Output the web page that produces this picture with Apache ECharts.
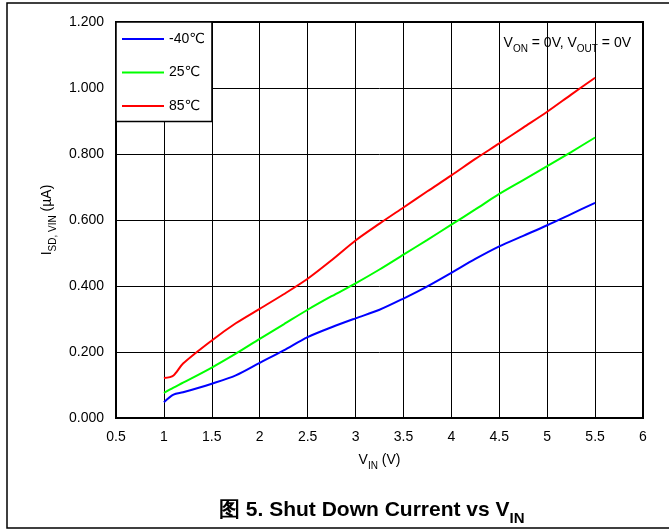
<!DOCTYPE html>
<html><head><meta charset="utf-8">
<script src="https://cdn.jsdelivr.net/npm/echarts@6/dist/echarts.min.js"></script>
<style>html,body{margin:0;padding:0;background:#fff}#c{width:669px;height:529px}</style>
</head><body><div id="c"></div>
<script>
const vin = [1.0, 1.1, 1.2, 1.5, 1.75, 2.0, 2.25, 2.5, 2.75, 3.0, 3.25, 3.5, 3.75, 4.0, 4.25, 4.5, 4.75, 5.0, 5.25, 5.5];
const m40 = [0.048, 0.071, 0.078, 0.104, 0.129, 0.167, 0.205, 0.245, 0.275, 0.302, 0.328, 0.362, 0.399, 0.440, 0.482, 0.520, 0.552, 0.584, 0.618, 0.652];
const t25 = [0.076, 0.092, 0.107, 0.153, 0.195, 0.240, 0.284, 0.328, 0.369, 0.408, 0.450, 0.495, 0.540, 0.586, 0.632, 0.679, 0.721, 0.763, 0.806, 0.850];
const t85 = [0.121, 0.129, 0.165, 0.235, 0.287, 0.331, 0.375, 0.422, 0.478, 0.538, 0.589, 0.638, 0.687, 0.735, 0.785, 0.832, 0.880, 0.928, 0.980, 1.031];
const seriesNames = ['-40℃', '25℃', '85℃'];
const seriesColors = ['#0000ff', '#00ff00', '#ff0000'];
const yTicks = [0, 0.2, 0.4, 0.6, 0.8, 1.0, 1.2];
const xTicks = [0.5, 1, 1.5, 2, 2.5, 3, 3.5, 4, 4.5, 5, 5.5, 6];

const FONT = '"Liberation Sans", Arial, "DejaVu Sans", sans-serif';
const pair = a => vin.map((x, i) => [x, a[i]]);
const allData = [m40, t25, t85];

const chart = echarts.init(document.getElementById('c'), null, {renderer: 'canvas'});
chart.setOption({
  animation: false,
  backgroundColor: '#fff',
  textStyle: {fontFamily: FONT},
  grid: {left: 116, right: 26, top: 22, bottom: 111, show: true, borderColor: '#000', borderWidth: 2, z: 5},
  title: {
    text: '{a|图 5. Shut Down Current vs V}{s|IN}',
    left: 214, top: 495,
    textStyle: {rich: {
      a: {fontFamily: FONT, fontWeight: 'bold', fontSize: 21, color: '#000'},
      s: {fontFamily: FONT, fontWeight: 'bold', fontSize: 15, color: '#000', verticalAlign: 'bottom', padding: [0, 0, -5, 0]}
    }}
  },
  legend: {
    orient: 'vertical', left: 116, top: 22,
    data: seriesNames,
    icon: 'rect',
    itemWidth: 42, itemHeight: 2, itemGap: 17.5,
    padding: [9, 7, 7.5, 6],
    backgroundColor: '#fff', borderColor: '#000', borderWidth: 1.5,
    textStyle: {fontFamily: FONT, fontSize: 14, lineHeight: 16, color: '#000'},
    z: 10
  },
  xAxis: {
    type: 'value', min: 0.5, max: 6, interval: 0.5,
    name: '{a|V}{s|IN}{a| (V)}', nameLocation: 'middle', nameGap: 35,
    nameTextStyle: {rich: {
      a: {fontFamily: FONT, fontSize: 14, color: '#000'},
      s: {fontFamily: FONT, fontSize: 10, color: '#000', verticalAlign: 'bottom', padding: [0, 0, -4, 0]}
    }},
    axisLine: {show: false}, axisTick: {show: false},
    axisLabel: {fontFamily: FONT, fontSize: 14, color: '#000', margin: 12},
    splitLine: {show: true, lineStyle: {color: '#000', width: 1}}
  },
  yAxis: {
    type: 'value', min: 0, max: 1.2, interval: 0.2,
    name: '{a|I}{s|SD, VIN}{a| (µA)}', nameLocation: 'middle', nameGap: 58, nameRotate: 90,
    nameTextStyle: {rich: {
      a: {fontFamily: FONT, fontSize: 14, color: '#000'},
      s: {fontFamily: FONT, fontSize: 10, color: '#000', verticalAlign: 'bottom', padding: [0, 0, -4, 0]}
    }},
    axisLine: {show: false}, axisTick: {show: false},
    axisLabel: {fontFamily: FONT, fontSize: 14, color: '#000', margin: 12, formatter: v => v.toFixed(3)},
    splitLine: {show: true, lineStyle: {color: '#000', width: 1}}
  },
  graphic: [
    {type: 'rect', shape: {x: 7, y: 3, width: 680, height: 525}, style: {fill: 'none', stroke: '#000', lineWidth: 1.5}, silent: true, z: 0},
    {type: 'text', right: 38, top: 36, z: 20, style: {
      text: '{a|V}{s|ON}{a| = 0V, V}{s|OUT}{a| = 0V}',
      rich: {
        a: {fontFamily: FONT, fontSize: 14, fill: '#000'},
        s: {fontFamily: FONT, fontSize: 10, fill: '#000', verticalAlign: 'bottom', padding: [0, 0, -4, 0]}
      }
    }}
  ],
  series: seriesNames.map((n, i) => ({
    name: n, type: 'line', data: pair(allData[i]), smooth: 0.3, symbol: 'none',
    lineStyle: {color: seriesColors[i], width: 2}, itemStyle: {color: seriesColors[i]}, z: 3
  }))
});
</script></body></html>
